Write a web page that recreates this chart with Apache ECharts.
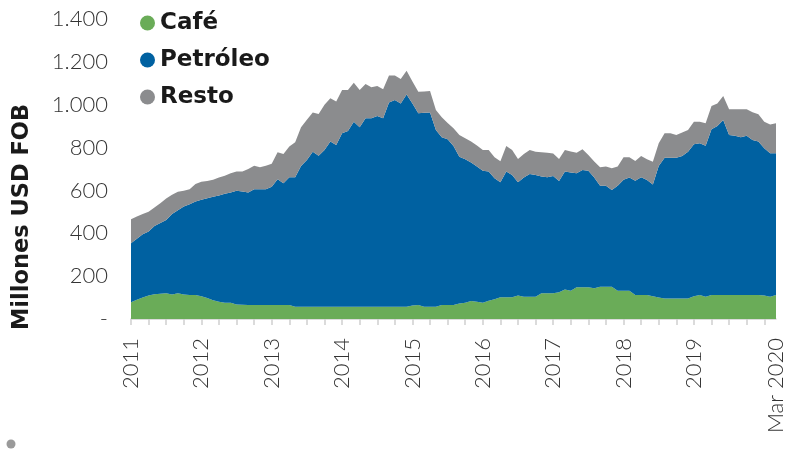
<!DOCTYPE html>
<html>
<head>
<meta charset="utf-8">
<script src="https://cdn.jsdelivr.net/npm/echarts@6/dist/echarts.min.js"></script>
<style>
html,body{margin:0;padding:0;background:#fff;}
#chart{width:787px;height:455px;}
</style>
</head>
<body>
<div id="chart"></div>
<script>
// Monthly, Jan 2011 .. Mar 2020 (111 months)
const startYear = 2011;
const monthCount = 111;
const cafe = [78,90,100,110,115,118,120,114,120,114,112,112,106,98,88,80,76,76,68,66,
  65,65,65,65,65,65,65,65,57,57,57,57,57,57,57,57,57,57,57,57,
  57,57,57,57,57,57,57,57,63,65,57,57,57,65,65,65,72,76,84,80,
  76,85,92,101,101,101,110,104,104,104,120,120,120,125,138,132,148,148,148,143,
  151,151,151,132,132,132,112,112,112,106,100,96,96,96,96,96,106,112,104,112,
  112,112,112,112,112,112,112,112,110,104,112];
const petroleo = [275,285,295,298,319,330,342,376,388,411,423,436,450,465,482,496,509,514,531,529,
  525,540,540,540,552,587,568,596,604,657,685,724,705,732,771,755,810,820,864,838,
  880,880,890,880,953,965,949,991,943,895,905,907,825,783,774,742,685,669,646,632,
  616,603,565,537,587,571,528,556,573,568,545,541,547,519,550,552,532,547,544,517,
  471,471,451,490,518,528,533,549,537,522,614,657,657,657,665,685,709,708,705,773,
  789,817,747,743,736,743,723,716,687,669,661];
const resto = [112,103,95,93,86,92,100,90,86,73,70,82,84,81,80,84,83,90,89,93,
  110,110,103,110,108,126,137,144,164,181,188,183,195,211,202,203,202,192,182,174,
  160,144,140,135,126,114,114,111,102,101,100,100,93,93,76,83,102,98,98,98,
  97,101,98,98,119,117,109,110,112,109,113,115,105,103,101,98,96,97,73,75,
  86,90,101,90,105,95,92,100,96,106,106,114,114,106,109,101,106,101,104,109,
  105,112,120,124,131,124,130,127,124,135,140];
const yTicks = [0,200,400,600,800,1000,1200,1400];
const monthNames = ['Ene','Feb','Mar','Abr','May','Jun','Jul','Ago','Sep','Oct','Nov','Dic'];
const categories = [];
for (let i = 0; i < monthCount; i++) {
  const y = startYear + Math.floor(i / 12), m = i % 12;
  categories.push(monthNames[m] + ' ' + y);
}
const lastCategory = categories[monthCount - 1];
const lastLabel = 'Mar 2020';

const colors = { cafe: '#6aac58', petroleo: '#0061a1', resto: '#8b8c8e' };
const chart = echarts.init(document.getElementById('chart'));
function areaSeries(name, data, color) {
  return {
    name, type: 'line', stack: 'total', data,
    showSymbol: false, symbol: 'none',
    lineStyle: { width: 0 },
    areaStyle: { color, opacity: 1 },
    itemStyle: { color },
    emphasis: { disabled: true }
  };
}
chart.setOption({
  animation: false,
  grid: { left: 131, right: 10, top: 19, bottom: 136, containLabel: false },
  legend: {
    orient: 'vertical', left: 140, top: 11, itemGap: 13, padding: 0,
    icon: 'circle', itemWidth: 15, itemHeight: 15,
    textStyle: { fontFamily: 'DejaVu Sans', fontWeight: 'bold', fontSize: 23, color: '#1a1a1a', lineHeight: 24 },
    data: ['Café', 'Petróleo', 'Resto']
  },
  xAxis: {
    type: 'category', data: categories, boundaryGap: false,
    axisLine: { show: true, lineStyle: { color: '#d0d0d0', width: 1.5 } },
    axisTick: { show: true, length: 6, lineStyle: { color: '#d0d0d0', width: 1.5 },
      interval: function (i) { return i % 3 === 0; } },
    axisLabel: {
      rotate: 90, margin: 19, fontFamily: 'Lato', fontWeight: 300, fontSize: 22, color: '#333',
      interval: function (i) { return (i % 12 === 0 && i < monthCount - 3) || i === monthCount - 1; },
      formatter: function (v) { return v === lastCategory ? lastLabel : v.split(' ')[1]; }
    },
    splitLine: { show: false }
  },
  yAxis: {
    type: 'value', min: yTicks[0], max: yTicks[yTicks.length - 1], interval: 200,
    axisLine: { show: false }, axisTick: { show: false }, splitLine: { show: false },
    axisLabel: {
      margin: 23, fontFamily: 'Lato', fontWeight: 300, fontSize: 22, color: '#333',
      formatter: function (v) { return v === 0 ? '-' : v.toString().replace(/\B(?=(\d{3})+(?!\d))/g, '.'); }
    }
  },
  graphic: [
    { type: 'text', x: 22, y: 217, rotation: Math.PI / 2,
      style: { text: 'Millones USD FOB', fontFamily: 'DejaVu Sans', fontWeight: 'bold', fontSize: 22.5, fill: '#1a1a1a', align: 'center', verticalAlign: 'middle' } },
    { type: 'circle', shape: { cx: 11, cy: 444, r: 4.5 }, style: { fill: '#9a9a9a' } }
  ],
  series: [
    areaSeries('Café', cafe, colors.cafe),
    areaSeries('Petróleo', petroleo, colors.petroleo),
    areaSeries('Resto', resto, colors.resto)
  ]
});
</script>
</body>
</html>
